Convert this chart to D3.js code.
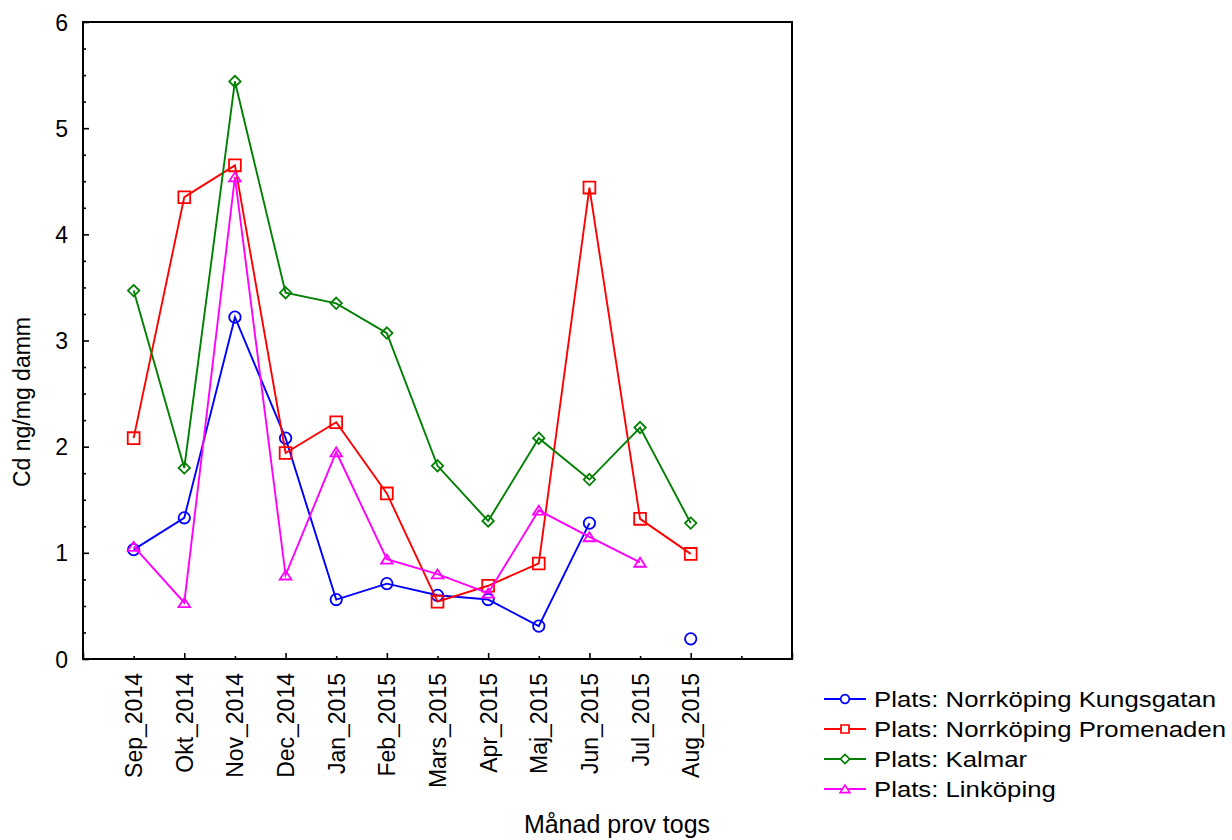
<!DOCTYPE html>
<html>
<head>
<meta charset="utf-8">
<script src="https://cdn.jsdelivr.net/npm/d3@7"></script>
<style>
  html, body { margin: 0; padding: 0; background: #fff; }
  svg { display: block; font-family: "Liberation Sans", Arial, sans-serif; }
</style>
</head>
<body>
<svg id="chart" width="1232" height="840"></svg>
<script>
// Month of sampling
const months = ["Sep_2014", "Okt_2014", "Nov_2014", "Dec_2014", "Jan_2015", "Feb_2015",
                "Mars_2015", "Apr_2015", "Maj_2015", "Jun_2015", "Jul_2015", "Aug_2015"];

// Cd ng/mg dust per site (null = no sample)
const kungsgatan = [1.03, 1.33, 3.22, 2.08, 0.56, 0.71, 0.60, 0.56, 0.31, 1.28, null, 0.19];
const promenaden = [2.08, 4.35, 4.65, 1.94, 2.23, 1.56, 0.54, 0.69, 0.90, 4.44, 1.32, 0.99];
const kalmar     = [3.47, 1.80, 5.44, 3.45, 3.35, 3.07, 1.82, 1.30, 2.08, 1.69, 2.18, 1.28];
const linkoping  = [1.06, 0.53, 4.54, 0.79, 1.95, 0.94, 0.80, 0.62, 1.40, 1.15, 0.91, null];

const seriesNames = ["Plats: Norrköping Kungsgatan", "Plats: Norrköping Promenaden",
                     "Plats: Kalmar", "Plats: Linköping"];
const yTicks = [0, 1, 2, 3, 4, 5, 6];

const series = [
  { name: seriesNames[0], values: kungsgatan, color: "#0000ff", shape: "circle" },
  { name: seriesNames[1], values: promenaden, color: "#ff0000", shape: "square" },
  { name: seriesNames[2], values: kalmar,     color: "#008000", shape: "diamond" },
  { name: seriesNames[3], values: linkoping,  color: "#ff00ff", shape: "triangle" }
];

const svg = d3.select("#chart");
const plotLeft = 83, plotRight = 792, plotTop = 22, plotBottom = 659;

// Category index scale, padded by one slot on the left and two on the right
const x = d3.scaleLinear().domain([-1, 13]).range([plotLeft, plotRight]);
const y = d3.scaleLinear().domain([0, 6]).range([plotBottom, plotTop]);

// Marker outlines
function markerPath(shape, s) {
  switch (shape) {
    case "circle":
      return `M${s},0A${s},${s} 0 1,1 ${-s},0A${s},${s} 0 1,1 ${s},0Z`;
    case "square":
      return `M${-s},${-s}H${s}V${s}H${-s}Z`;
    case "diamond":
      return `M0,${-s}L${s},0L0,${s}L${-s},0Z`;
    case "triangle":
      return `M0,${-s * 0.8}L${s},${s * 0.75}L${-s},${s * 0.75}Z`;
  }
}
const markerSize = { circle: 5.7, square: 5.9, diamond: 5.7, triangle: 5.8 };
const legendSize = { circle: 4.3, square: 4.0, diamond: 4.6, triangle: 4.8 };

// Frame
svg.append("path")
  .attr("d", `M${plotLeft},${plotTop}H${plotRight}V${plotBottom}H${plotLeft}Z`)
  .attr("fill", "none").attr("stroke", "#000").attr("stroke-width", 2);

// X ticks (inward): long at odd slots, short at even slots
const xAll = d3.range(-1, 14);
svg.append("g")
  .attr("transform", `translate(0,${plotBottom})`)
  .call(d3.axisBottom(x).tickValues(xAll.filter(i => Math.abs(i) % 2 === 1)).tickSize(-6).tickFormat(""))
  .call(g => g.select(".domain").remove())
  .call(g => g.selectAll("line").attr("stroke-width", 1.6));
svg.append("g")
  .attr("transform", `translate(0,${plotBottom})`)
  .call(d3.axisBottom(x).tickValues(xAll.filter(i => i % 2 === 0)).tickSize(-3).tickFormat(""))
  .call(g => g.select(".domain").remove())
  .call(g => g.selectAll("line").attr("stroke-width", 1.6));

// X tick labels, rotated
svg.append("g")
  .attr("transform", `translate(0,${plotBottom})`)
  .call(d3.axisBottom(x).tickValues(d3.range(months.length)).tickSize(0).tickFormat(i => months[i]))
  .call(g => g.select(".domain").remove())
  .call(g => g.selectAll("text")
    .attr("font-size", 23).attr("font-family", "Liberation Sans, Arial, sans-serif")
    .attr("fill", "#000")
    .attr("text-anchor", "end")
    .attr("transform", "rotate(-90)")
    .attr("x", -14).attr("y", 0).attr("dy", "0.35em"));

// Y ticks (inward): long at integers, short at quarters
svg.append("g")
  .attr("transform", `translate(${plotLeft},0)`)
  .call(d3.axisLeft(y).tickValues(yTicks).tickSize(-6).tickFormat(d3.format("d")))
  .call(g => g.select(".domain").remove())
  .call(g => g.selectAll("line").attr("stroke-width", 1.6))
  .call(g => g.selectAll("text")
    .attr("font-size", 23).attr("font-family", "Liberation Sans, Arial, sans-serif")
    .attr("fill", "#000").attr("x", -15).attr("dy", "0.35em"));
svg.append("g")
  .attr("transform", `translate(${plotLeft},0)`)
  .call(d3.axisLeft(y).tickValues(d3.range(0, 6.01, 0.25).filter(v => v % 1 !== 0)).tickSize(-3).tickFormat(""))
  .call(g => g.select(".domain").remove())
  .call(g => g.selectAll("line").attr("stroke-width", 1.6));

// Axis titles
svg.append("text")
  .attr("transform", "translate(30,402) rotate(-90)")
  .attr("text-anchor", "middle").attr("font-size", 23)
  .text("Cd ng/mg damm");
svg.append("text")
  .attr("x", 617).attr("y", 833)
  .attr("text-anchor", "middle").attr("font-size", 25)
  .text("Månad prov togs");

// Series lines and markers
const line = d3.line()
  .defined(d => d != null)
  .x((d, i) => x(i))
  .y(d => y(d));

series.forEach(s => {
  const g = svg.append("g");
  g.append("path")
    .attr("d", line(s.values))
    .attr("fill", "none").attr("stroke", s.color).attr("stroke-width", 1.9);
  g.selectAll("path.mk")
    .data(s.values.map((v, i) => ({ v, i })).filter(d => d.v != null))
    .join("path").attr("class", "mk")
    .attr("transform", d => `translate(${x(d.i)},${y(d.v)})`)
    .attr("d", markerPath(s.shape, markerSize[s.shape]))
    .attr("fill", "none").attr("stroke", s.color).attr("stroke-width", 1.8);
});

// Legend
const legend = svg.append("g");
series.forEach((s, k) => {
  const ly = 699 + k * 30;
  legend.append("line")
    .attr("x1", 824).attr("x2", 866).attr("y1", ly).attr("y2", ly)
    .attr("stroke", s.color).attr("stroke-width", 1.9);
  legend.append("path")
    .attr("transform", `translate(845,${ly})`)
    .attr("d", markerPath(s.shape, legendSize[s.shape]))
    .attr("fill", "#fff").attr("stroke", s.color).attr("stroke-width", 1.7);
  legend.append("text")
    .attr("transform", `translate(874,${ly}) scale(1.12,1)`)
    .attr("dy", "0.36em")
    .attr("font-size", 23)
    .text(s.name);
});
</script>
</body>
</html>
